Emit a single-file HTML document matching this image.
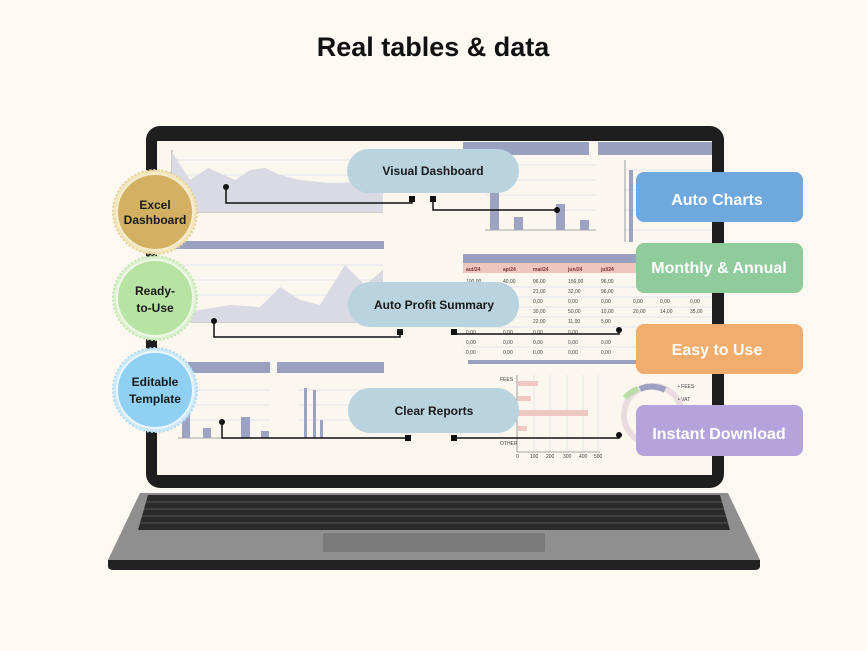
<!DOCTYPE html>
<html><head><meta charset="utf-8"><style>
body{margin:0;background:#fdf8f1;}
svg{display:block}
text{font-family:"Liberation Sans",sans-serif}
</style></head><body>
<svg width="867" height="651" viewBox="0 0 867 651" xmlns="http://www.w3.org/2000/svg">
<rect width="867" height="651" fill="#fdf8f1"/>
<text x="433" y="56" text-anchor="middle" font-size="27" font-weight="bold" fill="#111">Real tables &amp; data</text>
<!-- laptop screen -->
<rect x="146" y="126" width="578" height="362" rx="14" fill="#1e1e1e"/>
<rect x="157" y="141" width="555" height="334" fill="#fbf7ef"/>
<!-- base -->
<path d="M140 493 L728 493 L760 560 L108 560 Z" fill="#8f8f8f"/>
<path d="M108 560 L760 560 L760 566 Q760 570 754 570 L114 570 Q108 570 108 566Z" fill="#222"/>
<path d="M148 495 L720 495 L730 530 L138 530 Z" fill="#2a2a2a"/>
<g stroke="#555" stroke-width="1">
<line x1="146" y1="502" x2="722" y2="502"/><line x1="144" y1="509" x2="724" y2="509"/><line x1="142" y1="516" x2="726" y2="516"/><line x1="140" y1="523" x2="728" y2="523"/>
</g>
<rect x="323" y="533" width="222" height="19" rx="2" fill="#7a7a7a"/>
<!-- dashboard content -->
<g fill="none" stroke="#e4e4ea" stroke-width="1">
<line x1="172" y1="160" x2="383" y2="160"/><line x1="172" y1="175" x2="383" y2="175"/><line x1="172" y1="190" x2="383" y2="190"/><line x1="172" y1="205" x2="383" y2="205"/>
<line x1="172" y1="265" x2="383" y2="265"/><line x1="172" y1="280" x2="383" y2="280"/><line x1="172" y1="295" x2="383" y2="295"/><line x1="172" y1="310" x2="383" y2="310"/>
<line x1="485" y1="165" x2="596" y2="165"/><line x1="485" y1="180" x2="596" y2="180"/><line x1="485" y1="195" x2="596" y2="195"/><line x1="485" y1="210" x2="596" y2="210"/>
<line x1="625" y1="170" x2="712" y2="170"/><line x1="625" y1="190" x2="712" y2="190"/><line x1="625" y1="210" x2="712" y2="210"/><line x1="625" y1="230" x2="712" y2="230"/>
<line x1="178" y1="390" x2="270" y2="390"/><line x1="178" y1="405" x2="270" y2="405"/><line x1="178" y1="420" x2="270" y2="420"/>
<line x1="298" y1="390" x2="384" y2="390"/><line x1="298" y1="405" x2="384" y2="405"/><line x1="298" y1="420" x2="384" y2="420"/>
<line x1="463" y1="287" x2="712" y2="287"/><line x1="463" y1="297" x2="712" y2="297"/><line x1="463" y1="307" x2="712" y2="307"/><line x1="463" y1="317" x2="712" y2="317"/><line x1="463" y1="327" x2="712" y2="327"/><line x1="463" y1="347" x2="712" y2="347"/>
<line x1="534" y1="375" x2="534" y2="452"/><line x1="550" y1="375" x2="550" y2="452"/><line x1="567" y1="375" x2="567" y2="452"/><line x1="583" y1="375" x2="583" y2="452"/><line x1="598" y1="375" x2="598" y2="452"/>
</g>
<g stroke="#888" stroke-width="0.8"><line x1="172" y1="150" x2="172" y2="212"/><line x1="172" y1="212" x2="383" y2="212"/><line x1="172" y1="322" x2="383" y2="322"/><line x1="485" y1="230" x2="596" y2="230"/><line x1="625" y1="160" x2="625" y2="242"/><line x1="178" y1="438" x2="270" y2="438"/><line x1="298" y1="438" x2="330" y2="438"/><line x1="517" y1="375" x2="517" y2="452"/><line x1="517" y1="452" x2="600" y2="452"/></g>
<path d="M172 152 L190 180 L208 168 L235 180 L250 170 L265 168 L280 175 L300 180 L330 183 L360 182 L383 185 L383 212 L172 212Z" fill="#d9dae3"/>
<path d="M172 320 L200 310 L230 305 L260 307 L280 287 L300 300 L320 305 L345 265 L365 285 L383 270 L383 322 L172 322Z" fill="#d9dae3"/>
<rect x="172" y="241" width="212" height="8" fill="#9aa0c0"/>
<rect x="463" y="142" width="126" height="13" fill="#9aa0c0"/>
<rect x="598" y="142" width="114" height="13" fill="#9aa0c0"/>
<rect x="463" y="254" width="250" height="9" fill="#9aa0c0"/>
<rect x="463" y="263" width="250" height="10" fill="#efc6bd"/>
<rect x="188" y="362" width="82" height="11" fill="#9aa0c0"/>
<rect x="277" y="362" width="107" height="11" fill="#9aa0c0"/>
<rect x="468" y="360" width="170" height="4" fill="#9aa0c0"/>
<g fill="#9ea2c2">
<rect x="490" y="190" width="9" height="40"/><rect x="514" y="217" width="9" height="13"/><rect x="556" y="204" width="9" height="26"/><rect x="580" y="220" width="9" height="10"/>
<rect x="629" y="170" width="4" height="72"/><rect x="182" y="410" width="8" height="28"/><rect x="203" y="428" width="8" height="10"/><rect x="241" y="417" width="9" height="21"/><rect x="261" y="431" width="8" height="7"/>
<rect x="304" y="388" width="3" height="50"/><rect x="313" y="390" width="3" height="48"/><rect x="320" y="420" width="3" height="18"/>
</g>
<g fill="#f0c8c3"><rect x="518" y="381" width="20" height="5"/><rect x="518" y="396" width="13" height="5"/><rect x="518" y="410" width="70" height="6"/><rect x="518" y="426" width="9" height="5"/></g>
<circle cx="653" cy="415" r="29" fill="none" stroke="#eadbe0" stroke-width="6"/>
<path d="M640 389 A29 29 0 0 1 665 390" fill="none" stroke="#9ea2c2" stroke-width="6"/>
<path d="M625 398 A29 29 0 0 1 638 389" fill="none" stroke="#b9dfa9" stroke-width="6"/>
<g font-size="5" fill="#444">
<text x="466" y="271" font-weight="bold" fill="#733">aut/24</text><text x="503" y="271" font-weight="bold" fill="#733">ap/24</text><text x="533" y="271" font-weight="bold" fill="#733">mai/24</text><text x="568" y="271" font-weight="bold" fill="#733">jun/24</text><text x="601" y="271" font-weight="bold" fill="#733">jul/24</text>
<text x="466" y="283">100,00</text><text x="503" y="283">40,00</text><text x="533" y="283">96,00</text><text x="568" y="283">156,00</text><text x="601" y="283">96,00</text>
<text x="533" y="293">21,00</text><text x="568" y="293">32,00</text><text x="601" y="293">96,00</text>
<text x="533" y="303">0,00</text><text x="568" y="303">0,00</text><text x="601" y="303">0,00</text><text x="633" y="303">0,00</text><text x="660" y="303">0,00</text><text x="690" y="303">0,00</text>
<text x="533" y="313">30,00</text><text x="568" y="313">50,00</text><text x="601" y="313">10,00</text><text x="633" y="313">20,00</text><text x="660" y="313">14,00</text><text x="690" y="313">35,00</text>
<text x="533" y="323">22,00</text><text x="568" y="323">11,00</text><text x="601" y="323">5,00</text>
<text x="466" y="334">0,00</text><text x="503" y="334">0,00</text><text x="533" y="334">0,00</text><text x="568" y="334">0,00</text>
<text x="466" y="344">0,00</text><text x="503" y="344">0,00</text><text x="533" y="344">0,00</text><text x="568" y="344">0,00</text><text x="601" y="344">0,00</text>
<text x="466" y="354">0,00</text><text x="503" y="354">0,00</text><text x="533" y="354">0,00</text><text x="568" y="354">0,00</text><text x="601" y="354">0,00</text>
<text x="500" y="381">FEES</text><text x="500" y="445">OTHER</text><text x="678" y="388">• FEES</text><text x="678" y="401">• VAT</text>
<text x="516" y="458">0</text><text x="530" y="458">100</text><text x="546" y="458">200</text><text x="563" y="458">300</text><text x="579" y="458">400</text><text x="594" y="458">500</text>
</g>
<!-- connectors -->
<g stroke="#111" stroke-width="1.5" fill="none">
<polyline points="226,187 226,203 412,203 412,199"/>
<polyline points="433,199 433,210 557,210"/>
<polyline points="214,321 214,337 400,337 400,332"/>
<polyline points="454,332 454,334 619,334 619,330"/>
<polyline points="222,422 222,438 408,438"/>
<polyline points="454,438 619,438 619,435"/>
</g>
<g fill="#111">
<circle cx="226" cy="187" r="3"/><rect x="409" y="196" width="6" height="6"/><rect x="430" y="196" width="6" height="6"/><circle cx="557" cy="210" r="3"/>
<circle cx="214" cy="321" r="3"/><rect x="397" y="329" width="6" height="6"/><rect x="451" y="329" width="6" height="6"/><circle cx="619" cy="330" r="3"/>
<circle cx="222" cy="422" r="3"/><rect x="405" y="435" width="6" height="6"/><rect x="451" y="435" width="6" height="6"/><circle cx="619" cy="435" r="3"/>
</g>
<!-- middle pills -->
<g fill="#b9d3df">
<rect x="347" y="149" width="172" height="44" rx="22"/>
<rect x="348" y="282" width="171" height="45" rx="22"/>
<rect x="348" y="388" width="171" height="45" rx="22"/>
</g>
<g font-size="12" font-weight="bold" fill="#1a1a1a" text-anchor="middle">
<text x="433" y="175">Visual Dashboard</text>
<text x="434" y="309">Auto Profit Summary</text>
<text x="434" y="415">Clear Reports</text>
</g>
<!-- right boxes -->
<rect x="636" y="172" width="167" height="50" rx="8" fill="#6ea8dd"/>
<rect x="636" y="243" width="167" height="50" rx="8" fill="#8fcb9b"/>
<rect x="636" y="324" width="167" height="50" rx="8" fill="#f0ad6d"/>
<rect x="636" y="405" width="167" height="51" rx="8" fill="#b5a4db"/>
<g font-size="16" font-weight="bold" fill="#fff" text-anchor="middle">
<text x="717" y="205">Auto Charts</text>
<text x="719" y="273">Monthly &amp; Annual</text>
<text x="717" y="355">Easy to Use</text>
<text x="719" y="439">Instant Download</text>
</g>
<!-- badges -->
<circle cx="155" cy="212" r="42" fill="#f3e6bc" stroke="#e6d39a" stroke-width="2" stroke-dasharray="2 2"/>
<circle cx="155" cy="212" r="38" fill="#d3b062" stroke="#f6ecd0" stroke-width="2"/>
<circle cx="155" cy="298" r="42" fill="#dcf1cf" stroke="#c3e6b1" stroke-width="2" stroke-dasharray="2 2"/>
<circle cx="155" cy="298" r="38" fill="#b7e3a3" stroke="#eef8e6" stroke-width="2"/>
<circle cx="155" cy="390" r="42" fill="#cfe9f7" stroke="#aedcf5" stroke-width="2" stroke-dasharray="2 2"/>
<circle cx="155" cy="390" r="38" fill="#8fd0f3" stroke="#e9f6fd" stroke-width="2"/>
<g font-size="12" font-weight="bold" fill="#1a1a1a" text-anchor="middle">
<text x="155" y="209">Excel</text><text x="155" y="224">Dashboard</text>
<text x="155" y="295">Ready-</text><text x="155" y="312">to-Use</text>
<text x="155" y="386">Editable</text><text x="155" y="403">Template</text>
</g>
</svg>
</body></html>
